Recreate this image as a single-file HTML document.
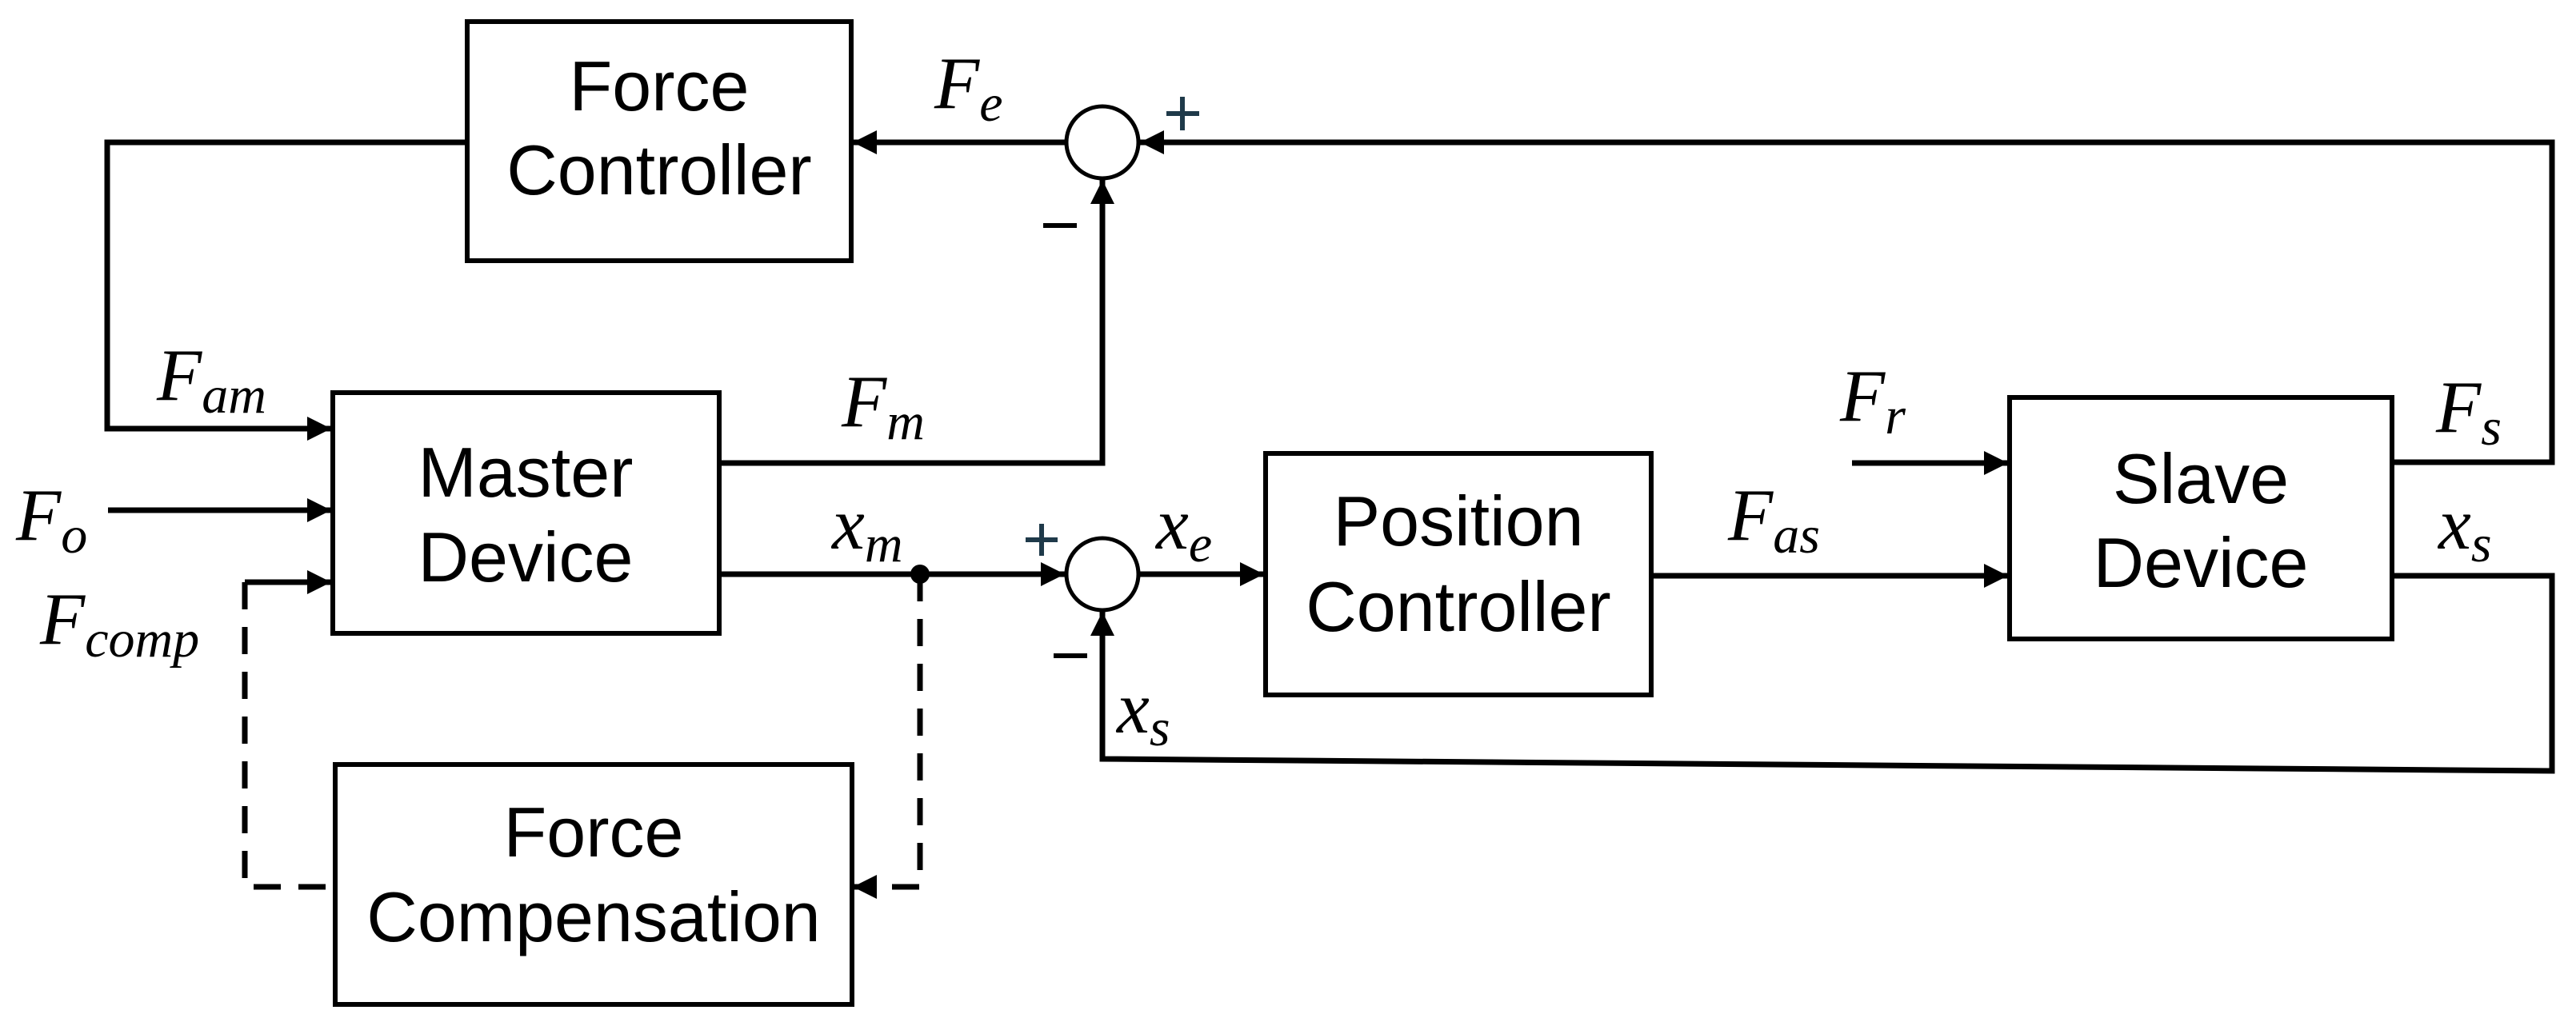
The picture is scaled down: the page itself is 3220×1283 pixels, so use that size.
<!DOCTYPE html>
<html><head><meta charset="utf-8"><style>
html,body{margin:0;padding:0;background:#fff;}
svg{display:block;}
.b{font-family:"Liberation Sans",sans-serif;font-size:88px;text-anchor:middle;fill:#000;}
.m{font-family:"Liberation Serif",serif;font-style:italic;font-size:92px;fill:#000;}
.s{font-size:66px;}
</style></head><body>
<svg width="3220" height="1283" viewBox="0 0 3220 1283" xmlns="http://www.w3.org/2000/svg">
<defs>
<marker id="a" viewBox="0 0 10 10" refX="10" refY="5" markerWidth="30" markerHeight="30" markerUnits="userSpaceOnUse" orient="auto">
<path d="M0,0 L10,5 L0,10 z" fill="#000"/></marker>
</defs>
<g fill="none" stroke="#000" stroke-width="6">
<rect x="584" y="27" width="480" height="299"/>
<rect x="416" y="491" width="483" height="301"/>
<rect x="419" y="956" width="646" height="300"/>
<rect x="1582" y="567" width="482" height="302"/>
<rect x="2512" y="497" width="478" height="302"/>
<circle cx="1378" cy="178" r="45" stroke-width="5"/>
<circle cx="1378" cy="718" r="45" stroke-width="5"/>
</g>
<g fill="none" stroke="#000" stroke-width="7">
<polyline points="584,178 134,178 134,536 414,536" marker-end="url(#a)"/>
<line x1="135" y1="638" x2="414" y2="638" marker-end="url(#a)"/>
<line x1="306" y1="728" x2="414" y2="728" marker-end="url(#a)"/>
<line x1="1333" y1="178" x2="1066" y2="178" marker-end="url(#a)"/>
<polyline points="2991,578 3190,578 3190,178 1425,178" marker-end="url(#a)"/>
<polyline points="899,579 1378,579 1378,225" marker-end="url(#a)"/>
<line x1="899" y1="718" x2="1331" y2="718" marker-end="url(#a)"/>
<line x1="1423" y1="718" x2="1580" y2="718" marker-end="url(#a)"/>
<line x1="2064" y1="720" x2="2510" y2="720" marker-end="url(#a)"/>
<line x1="2315" y1="579" x2="2510" y2="579" marker-end="url(#a)"/>
<polyline points="2991,720 3190,720 3190,964 1378,949 1378,765" marker-end="url(#a)"/>
</g>
<g fill="none" stroke="#000" stroke-width="7" stroke-dasharray="34,22">
<polyline points="1150,718 1150,1109 1068,1109"/>
<polyline points="306,728 306,1109 419,1109"/>
</g>
<polygon points="1066,1109 1096,1094 1096,1124" fill="#000"/>
<circle cx="1150" cy="718" r="12" fill="#000"/>
<g stroke="#1f3a4a" stroke-width="6">
<line x1="1458" y1="142" x2="1499" y2="142"/><line x1="1478" y1="121" x2="1478" y2="163"/>
<line x1="1282" y1="675" x2="1322" y2="675"/><line x1="1302" y1="655" x2="1302" y2="695"/>
</g>
<g stroke="#000" stroke-width="6">
<line x1="1304" y1="282" x2="1346" y2="282"/>
<line x1="1317" y1="820" x2="1359" y2="820"/>
</g>
<text class="b" x="824" y="138">Force</text>
<text class="b" x="824" y="243">Controller</text>
<text class="b" x="657" y="621">Master</text>
<text class="b" x="657" y="727">Device</text>
<text class="b" x="742" y="1071">Force</text>
<text class="b" x="742" y="1177">Compensation</text>
<text class="b" x="1823" y="682">Position</text>
<text class="b" x="1823" y="789">Controller</text>
<text class="b" x="2751" y="629">Slave</text>
<text class="b" x="2751" y="734">Device</text>
<text class="m" x="1168" y="135">F<tspan class="s" dy="16">e</tspan></text>
<text class="m" x="196" y="500">F<tspan class="s" dy="16">am</tspan></text>
<text class="m" x="1052" y="533">F<tspan class="s" dy="16">m</tspan></text>
<text class="m" x="20" y="675">F<tspan class="s" dy="16">o</tspan></text>
<text class="m" x="50" y="805">F<tspan class="s" dy="16">comp</tspan></text>
<text class="m" x="1040" y="686">x<tspan class="s" dy="16">m</tspan></text>
<text class="m" x="1445" y="686">x<tspan class="s" dy="16">e</tspan></text>
<text class="m" x="1396" y="916">x<tspan class="s" dy="16">s</tspan></text>
<text class="m" x="2300" y="526">F<tspan class="s" dy="16">r</tspan></text>
<text class="m" x="2160" y="675">F<tspan class="s" dy="16">as</tspan></text>
<text class="m" x="3045" y="540">F<tspan class="s" dy="16">s</tspan></text>
<text class="m" x="3048" y="686">x<tspan class="s" dy="16">s</tspan></text>
</svg>
</body></html>
